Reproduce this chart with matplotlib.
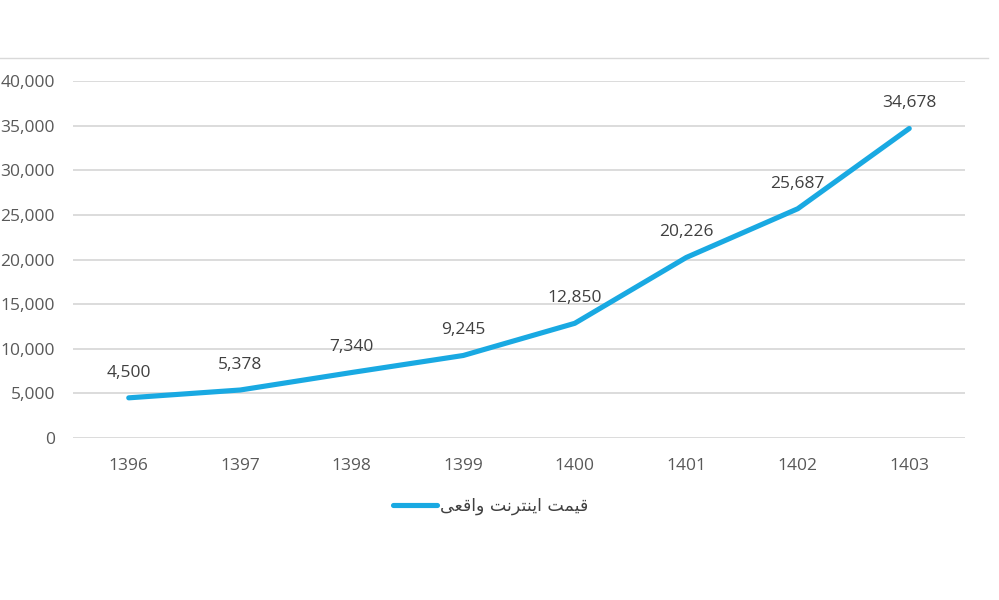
import matplotlib
matplotlib.use("Agg")
import matplotlib.pyplot as plt
from matplotlib.lines import Line2D
from matplotlib.ticker import FuncFormatter

years = ["1396", "1397", "1398", "1399", "1400", "1401", "1402", "1403"]
prices = [4500, 5378, 7340, 9245, 12850, 20226, 25687, 34678]
series_label = "قیمت اینترنت واقعی"
y_ticks = [0, 5000, 10000, 15000, 20000, 25000, 30000, 35000, 40000]

# minimal Arabic-script shaping (matplotlib does no shaping itself)
FORMS = {
    "ق": ("\uFED5", "\uFED6", "\uFED7", "\uFED8"),
    "ی": ("\uFBFC", "\uFBFD", "\uFBFE", "\uFBFF"),
    "م": ("\uFEE1", "\uFEE2", "\uFEE3", "\uFEE4"),
    "ت": ("\uFE95", "\uFE96", "\uFE97", "\uFE98"),
    "ن": ("\uFEE5", "\uFEE6", "\uFEE7", "\uFEE8"),
    "ع": ("\uFEC9", "\uFECA", "\uFECB", "\uFECC"),
    "ا": ("\uFE8D", "\uFE8E", None, None),
    "ر": ("\uFEAD", "\uFEAE", None, None),
    "و": ("\uFEED", "\uFEEE", None, None),
}


def dual(c):
    return c in FORMS and FORMS[c][2] is not None


def shape(text):
    out = []
    for i, c in enumerate(text):
        if c not in FORMS:
            out.append(c)
            continue
        prev = text[i - 1] if i > 0 else ""
        nxt = text[i + 1] if i + 1 < len(text) else ""
        pj = dual(prev)
        nj = dual(c) and nxt in FORMS
        f = FORMS[c]
        if pj and nj:
            out.append(f[3])
        elif pj:
            out.append(f[1])
        elif nj:
            out.append(f[2])
        else:
            out.append(f[0])
    return "".join(reversed(out))


plt.rcParams["font.family"] = ["Open Sans", "DejaVu Sans"]

fig = plt.figure(figsize=(9.99, 6.0), dpi=100)
ax = fig.add_axes([73 / 999, 1 - 438 / 600, (965 - 73) / 999, (438 - 81) / 600])

x = list(range(len(years)))
line, = ax.plot(x, prices, color="#19A9E2", lw=3.7, solid_capstyle="round",
                solid_joinstyle="round", label=shape(series_label), zorder=3)

for xi, v in zip(x, prices):
    ax.annotate(f"{v:,}", (xi, v), xytext=(0, 25), textcoords="offset pixels",
                ha="center", va="center", fontsize=12.5, color="#404040")

ax.set_xlim(-0.5, len(years) - 0.5)
ax.set_ylim(0, 40000)
ax.set_yticks(y_ticks)
ax.yaxis.set_major_formatter(FuncFormatter(lambda v, p: f"{int(v):,}"))
ax.set_xticks(x)
ax.set_xticklabels(years)
ax.tick_params(axis="both", length=0, labelsize=12.5, labelcolor="#595959")
ax.tick_params(axis="y", pad=13)
ax.tick_params(axis="x", pad=14.5)
ax.grid(axis="y", color="#D9D9D9", lw=1.3)
ax.set_axisbelow(True)
for s in ax.spines.values():
    s.set_visible(False)

leg = fig.legend(handles=[line], loc="center", bbox_to_anchor=(491 / 999, 1 - 506 / 600),
                 frameon=False, handlelength=2.5, handletextpad=0.2,
                 prop={"family": ["DejaVu Sans"], "size": 12.5})
for t in leg.get_texts():
    t.set_color("#404040")

fig.add_artist(Line2D([0, 988 / 999], [1 - 58 / 600, 1 - 58 / 600],
                      transform=fig.transFigure, color="#D9D9D9", lw=1.0))

fig.savefig("out.png", dpi=100, facecolor="white")
